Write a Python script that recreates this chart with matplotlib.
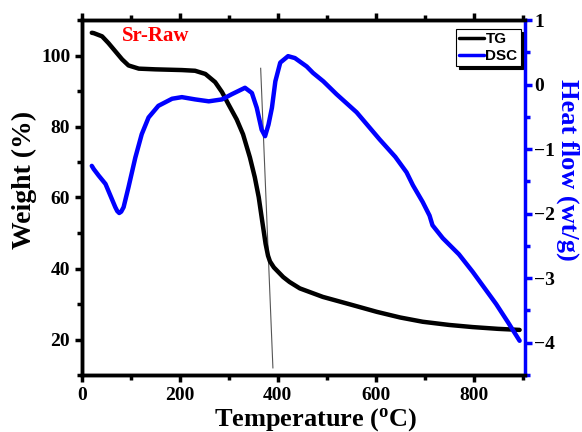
import matplotlib
matplotlib.use("Agg")
import matplotlib.pyplot as plt
from matplotlib.ticker import MultipleLocator

# TG curve: temperature (°C) vs weight (%)
tg_temp = [20, 24, 41, 54, 68, 82, 95, 116, 150, 204, 231, 252, 272, 286, 299, 316,
           329, 343, 353, 361, 368, 375, 380, 384, 392, 411, 424, 445, 492, 550, 602,
           650, 696, 750, 798, 850, 894]
tg_weight = [106.4, 106.3, 105.4, 103.5, 101.2, 98.9, 97.2, 96.3, 96.1, 95.9, 95.7,
             94.8, 92.5, 89.7, 86.3, 82.0, 77.8, 71.3, 65.7, 60.1, 53.5, 47.0, 43.6,
             42.0, 40.3, 37.6, 36.2, 34.4, 32.0, 29.8, 27.8, 26.2, 25.0, 24.1, 23.5,
             23.0, 22.7]

# DSC curve: temperature (°C) vs heat flow (wt/g)
dsc_temp = [20, 24, 34, 48, 58, 68, 72, 76, 80, 85, 95, 109, 122, 136, 156, 184, 204,
            231, 259, 286, 306, 333, 347, 357, 367, 374, 381, 388, 395, 405, 421, 435,
            459, 472, 493, 520, 561, 608, 640, 663, 676, 696, 710, 716, 737, 770, 798,
            822, 846, 870, 894]
dsc_heat = [-1.26, -1.31, -1.41, -1.54, -1.72, -1.90, -1.96, -1.99, -1.97, -1.90,
            -1.59, -1.13, -0.77, -0.51, -0.33, -0.22, -0.195, -0.23, -0.26, -0.23,
            -0.15, -0.05, -0.13, -0.36, -0.70, -0.80, -0.62, -0.36, 0.05, 0.34, 0.44,
            0.41, 0.28, 0.18, 0.05, -0.15, -0.43, -0.85, -1.12, -1.36, -1.56, -1.82,
            -2.03, -2.18, -2.38, -2.63, -2.9, -3.15, -3.4, -3.68, -3.97]

# Tangent drawn through the main decomposition step
tangent_temp = [365, 390]
tangent_weight = [96.4, 12.0]

serif = "Liberation Serif"
sans = "Liberation Sans"
blue = "#0000ff"

W, H = 582, 432
fig = plt.figure(figsize=(W / 100, H / 100), dpi=100)
ax = fig.add_axes([82 / W, 1 - 375 / H, (525 - 82) / W, (375 - 20) / H])
ax2 = ax.twinx()

ax.plot(tangent_temp, tangent_weight, color="#555555", lw=0.8, zorder=1)
ln1, = ax.plot(tg_temp, tg_weight, color="black", lw=3.2, solid_capstyle="round",
               solid_joinstyle="round", zorder=3)
ln2, = ax2.plot(dsc_temp, dsc_heat, color=blue, lw=3.2, solid_capstyle="round",
                solid_joinstyle="round", zorder=3)

ax.set_xlim(0, 905)
ax.set_ylim(10, 110)
ax2.set_ylim(-4.5, 1)

ax.xaxis.set_major_locator(MultipleLocator(200))
ax.xaxis.set_minor_locator(MultipleLocator(100))
ax.yaxis.set_major_locator(MultipleLocator(20))
ax.yaxis.set_minor_locator(MultipleLocator(10))
ax2.yaxis.set_major_locator(MultipleLocator(1))
ax2.yaxis.set_minor_locator(MultipleLocator(0.5))

for a in (ax, ax2):
    for side in ["left", "bottom", "top"]:
        a.spines[side].set_linewidth(2.5)
ax2.spines["right"].set_linewidth(2.5)
ax2.spines["right"].set_color(blue)
ax.spines["right"].set_visible(False)

ax.tick_params(axis="both", which="major", direction="out", length=5, width=2.5,
               labelsize=14, right=False)
ax.tick_params(axis="both", which="minor", direction="out", length=3.5, width=2.5,
               right=False)
ax.tick_params(axis="x", which="both", top=True, labeltop=False)
ax.tick_params(axis="x", which="both", pad=3.5)
ax2.tick_params(axis="y", which="major", direction="out", length=5, width=2.5,
                labelsize=14, colors=blue, labelcolor="black", pad=1.5)
ax2.tick_params(axis="y", which="minor", direction="out", length=3.5, width=2.5,
                colors=blue)

for lab in ax.get_xticklabels() + ax.get_yticklabels() + ax2.get_yticklabels():
    lab.set_fontfamily(serif)
    lab.set_fontweight("bold")

fig.text(316 / W, 1 - 426 / H, "Temperature ($\\mathregular{^o}$C)", fontsize=19,
         fontweight="bold", family=serif, ha="center", va="baseline")
fig.text(24 / W, 1 - 180 / H, "Weight (%)", fontsize=20, fontweight="bold",
         family=serif, ha="center", va="center", rotation=90)
fig.text(568 / W, 1 - 170 / H, "Heat flow (wt/g)", fontsize=19, fontweight="bold",
         family=serif, color=blue, ha="center", va="center", rotation=270)

ax.text(151, 105.6, "Sr-Raw", color="red", fontsize=15, fontweight="bold",
        family=serif, ha="center", va="center")

leg = ax2.legend([ln1, ln2], ["TG", "DSC"], loc="upper right",
                 bbox_to_anchor=(0.99, 0.975),
                 prop={"family": sans, "weight": "bold", "size": 11},
                 handlelength=1.6, handletextpad=0.1, borderpad=0.2, labelspacing=0.2,
                 fancybox=False, shadow={"color": "black", "alpha": 1.0},
                 edgecolor="black", framealpha=1, borderaxespad=0)
leg.get_frame().set_linewidth(0.8)
for h in leg.legend_handles:
    h.set_linewidth(2.5)

fig.savefig("out.png", dpi=100)
